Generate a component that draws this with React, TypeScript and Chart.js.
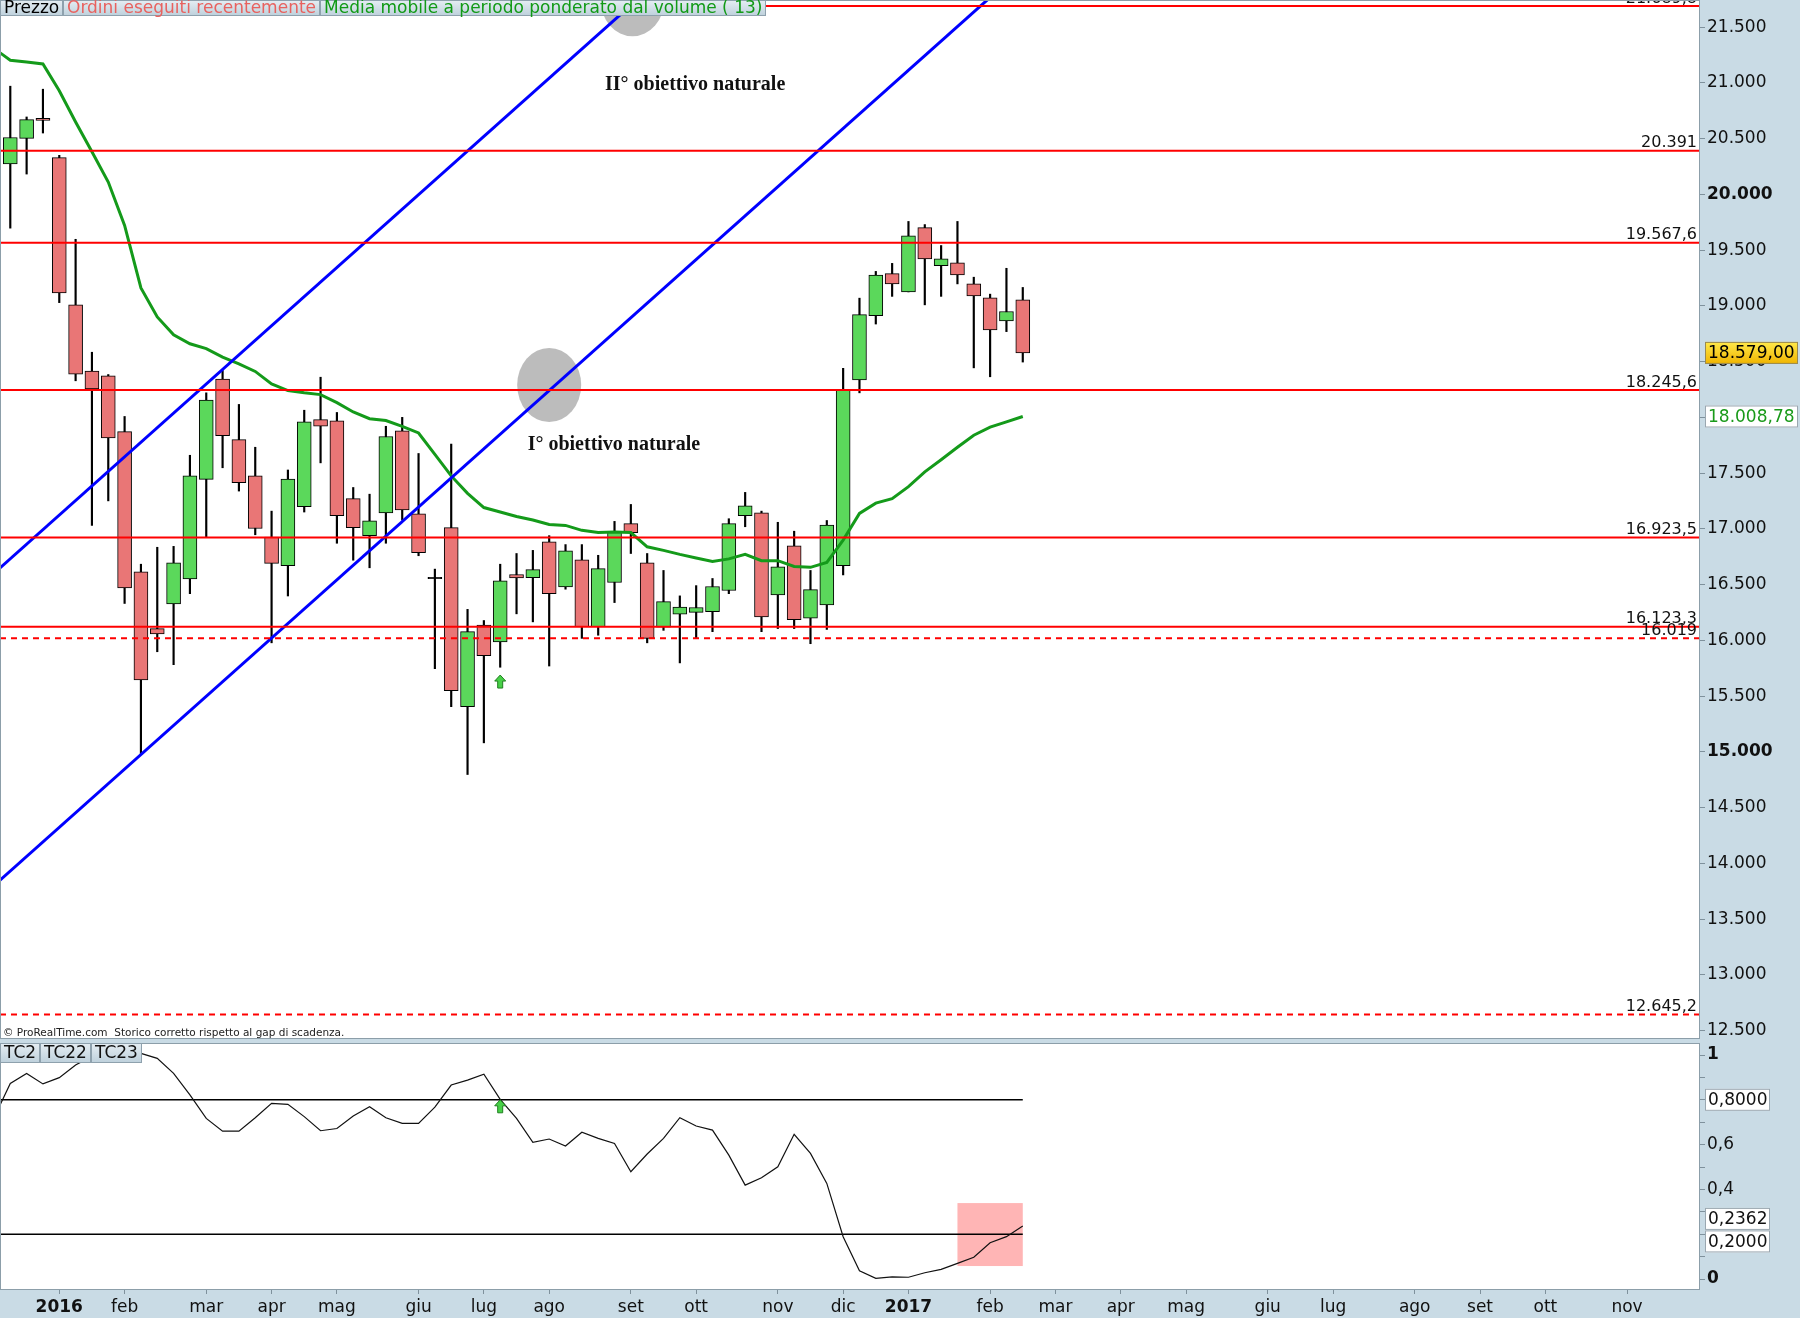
import React, { useEffect, useRef } from 'react';
import { Chart, registerables } from 'chart.js';

Chart.register(...registerables);

// ---------- DATA ----------
// Weekly candles, index 1..63 (first week: 14 Dec 2015)
const candleOpen = [20275, 20503, 20683, 20331, 19010, 18417, 18373, 17873, 16616, 16107, 16328, 16552, 17445, 18345, 17801, 17476, 16928, 16672, 17200, 17981, 17969, 17272, 16940, 17144, 17881, 17136, 16560, 17012, 15407, 16139, 15987, 16592, 16564, 16884, 16480, 16724, 16123, 16520, 17048, 16696, 16119, 16236, 16252, 16259, 16448, 17120, 17144, 16408, 16848, 16199, 16320, 16672, 18337, 18914, 19290, 19126, 19702, 19362, 19386, 19198, 19074, 18866, 19054];
const candleHigh = [20971, 20695, 20944, 20351, 19598, 18585, 18385, 18009, 16684, 16836, 16844, 17661, 18221, 18421, 18117, 17733, 17160, 17529, 18065, 18361, 18045, 17372, 17312, 17921, 18001, 17677, 16640, 17761, 16279, 16179, 16684, 16780, 16808, 16940, 16860, 16860, 16764, 17068, 17220, 16780, 16628, 16400, 16492, 16556, 17092, 17328, 17160, 17060, 16980, 16628, 17076, 18441, 19070, 19310, 19382, 19758, 19730, 19542, 19758, 19258, 19106, 19338, 19166];
const candleLow = [19698, 20183, 20551, 19030, 18329, 17032, 17252, 16332, 14978, 15899, 15783, 16420, 16928, 17549, 17340, 16948, 15979, 16399, 17152, 17593, 16872, 16720, 16652, 16872, 17080, 16760, 15747, 15407, 14798, 15082, 15760, 16239, 16167, 15771, 16460, 16019, 16047, 16340, 16780, 15979, 16091, 15799, 16019, 16079, 16420, 17020, 16079, 16107, 16107, 15971, 16099, 16588, 18221, 18838, 19086, 19126, 19010, 19086, 19198, 18445, 18365, 18770, 18497];
const candleClose = [20511, 20671, 20663, 19118, 18389, 18257, 17817, 16472, 15647, 16059, 16696, 17476, 18157, 17837, 17416, 17004, 16692, 17448, 17961, 17921, 17120, 17012, 17072, 17829, 17172, 16788, 16560, 15551, 16079, 15863, 16536, 16560, 16636, 16420, 16804, 16123, 16644, 16980, 16968, 16019, 16348, 16300, 16296, 16484, 17048, 17208, 16211, 16660, 16187, 16456, 17036, 18249, 18922, 19278, 19198, 19630, 19422, 19422, 19278, 19090, 18786, 18950, 18579];

// Volume weighted moving average (13), index 0..63
const vwma = [21310, 21204, 21187, 21170, 20930, 20650, 20383, 20111, 19722, 19162, 18902, 18741, 18661, 18618, 18541, 18481, 18413, 18301, 18241, 18221, 18205, 18133, 18049, 17989, 17973, 17921, 17861, 17669, 17476, 17320, 17192, 17152, 17112, 17080, 17040, 17032, 16988, 16968, 16972, 16968, 16840, 16808, 16772, 16740, 16708, 16732, 16772, 16716, 16716, 16664, 16656, 16700, 16900, 17140, 17232, 17272, 17380, 17512, 17621, 17733, 17841, 17913, 17961, 18008.78];

// Oscillator (TC2 / TC22 / TC23), index 0..63
const oscillator = [0.72, 0.873, 0.918, 0.871, 0.899, 0.955, 0.995, 1.02, 1.03, 1.007, 0.985, 0.918, 0.822, 0.717, 0.66, 0.66, 0.72, 0.784, 0.78, 0.725, 0.662, 0.672, 0.728, 0.769, 0.72, 0.695, 0.695, 0.767, 0.866, 0.888, 0.914, 0.802, 0.717, 0.61, 0.625, 0.594, 0.655, 0.628, 0.605, 0.479, 0.558, 0.628, 0.72, 0.683, 0.665, 0.553, 0.419, 0.452, 0.501, 0.646, 0.561, 0.427, 0.189, 0.037, 0.003, 0.01, 0.008, 0.028, 0.043, 0.07, 0.097, 0.162, 0.189, 0.2362];

const priceTicks = [12500, 13000, 13500, 14000, 14500, 15000, 15500, 16000, 16500, 17000, 17500, 18000, 18500, 19000, 19500, 20000, 20500, 21000, 21500];
const monthTickIdx = [4, 8, 13, 17, 21, 26, 30, 34, 39, 43, 48, 52, 56, 61, 65, 69, 73, 78, 82, 87, 91, 95, 100];
const monthTickLabels = ['2016', 'feb', 'mar', 'apr', 'mag', 'giu', 'lug', 'ago', 'set', 'ott', 'nov', 'dic', '2017', 'feb', 'mar', 'apr', 'mag', 'giu', 'lug', 'ago', 'set', 'ott', 'nov'];

const levelValues = [21689.8, 20391, 19567.6, 18245.6, 16923.5, 16123.3, 16019, 12645.2];
const levelDashed = [false, false, false, false, false, false, true, true];

const trendA = [[0.37, 16650], [45, 22480]];
const trendB = [[0.37, 13850], [66, 22420]];

const ellipseIdx = [34.0, 39.1];
const ellipseVal = [18291, 21750];

const noteTexts = ['II° obiettivo naturale', 'I° obiettivo naturale'];
const noteIdx = [37.42, 32.68];
const noteVal = [20933, 17712];

const oscLevels = [0.8, 0.2];
const oscTicks = [0, 0.1, 0.2, 0.3, 0.4, 0.5, 0.6, 0.7, 0.8, 0.9, 1];
const oscTickValues = [0, 0.4, 0.6, 1];
const oscTickTexts = ['0', '0,4', '0,6', '1'];

const zoneIdx = [59, 63];
const zoneVal = [0.058, 0.339];

const signalIdx = 31;
const signalPrice = 15690;
const signalOsc = 0.8;

const mainLegendTexts = ['Prezzo', 'Ordini eseguiti recentemente', 'Media mobile a periodo ponderato dal volume ( 13)'];
const mainLegendColors = ['#000000', '#e8625f', '#119a16'];
const oscLegendTexts = ['TC2', 'TC22', 'TC23'];
const copyrightText = '© ProRealTime.com  Storico corretto rispetto al gap di scadenza.';

// ---------- STYLE ----------
const FONT = '"DejaVu Sans", sans-serif';
const AXIS_BG = '#c9dbe5';
const X_MIN = 0.37;
const X_MAX = 104.47;
const GREEN = '#5bd85b';
const RED = '#e97676';
const FRAME = '#8c9ea9';

function fmt(v: number, dec = 0) {
  const s = Math.abs(v).toFixed(dec);
  const parts = s.split('.');
  const int = parts[0].replace(/\B(?=(\d{3})+(?!\d))/g, '.');
  return (v < 0 ? '-' : '') + (parts[1] ? int + ',' + parts[1] : int);
}

function drawUpArrow(ctx: CanvasRenderingContext2D, cx: number, ty: number) {
  ctx.save();
  ctx.beginPath();
  ctx.moveTo(cx, ty);
  ctx.lineTo(cx + 5.5, ty + 6);
  ctx.lineTo(cx + 2.5, ty + 6);
  ctx.lineTo(cx + 2.5, ty + 13);
  ctx.lineTo(cx - 2.5, ty + 13);
  ctx.lineTo(cx - 2.5, ty + 6);
  ctx.lineTo(cx - 5.5, ty + 6);
  ctx.closePath();
  ctx.fillStyle = '#48d048';
  ctx.fill();
  ctx.strokeStyle = '#1f7f1f';
  ctx.lineWidth = 1;
  ctx.stroke();
  ctx.restore();
}

function drawLegend(ctx: CanvasRenderingContext2D, texts: string[], colors: string[], y0: number, h: number, size: number, pad: number) {
  ctx.save();
  ctx.font = `${size}px ${FONT}`;
  ctx.textBaseline = 'middle';
  ctx.textAlign = 'left';
  let x = 0;
  texts.forEach((t, i) => {
    const w = Math.round(ctx.measureText(t).width + 2 * pad);
    const g = ctx.createLinearGradient(0, y0, 0, y0 + h);
    g.addColorStop(0, '#e6eef3');
    g.addColorStop(1, '#bdd0db');
    ctx.fillStyle = g;
    ctx.fillRect(x, y0, w, h);
    ctx.strokeStyle = '#8ea1ad';
    ctx.lineWidth = 1;
    ctx.strokeRect(x + 0.5, y0 + 0.5, w - 1, h - 1);
    ctx.fillStyle = colors[i];
    ctx.fillText(t, x + pad, y0 + h / 2 + 1);
    x += w;
  });
  ctx.restore();
}

function drawBox(ctx: CanvasRenderingContext2D, text: string, yc: number, x: number, w: number, h: number, fill: any, color: string, border: string) {
  ctx.save();
  ctx.fillStyle = fill;
  ctx.fillRect(x, yc - h / 2, w, h);
  ctx.strokeStyle = border;
  ctx.lineWidth = 1;
  ctx.strokeRect(x + 0.5, yc - h / 2 + 0.5, w - 1, h - 1);
  ctx.font = `17px ${FONT}`;
  ctx.textBaseline = 'middle';
  ctx.textAlign = 'left';
  ctx.fillStyle = color;
  ctx.fillText(text, x + 3, yc + 1);
  ctx.restore();
}

function frame(chart: any) {
  const { ctx, chartArea: a } = chart;
  ctx.save();
  ctx.strokeStyle = FRAME;
  ctx.lineWidth = 1;
  ctx.strokeRect(a.left + 0.5, a.top + 0.5, a.right - a.left - 1, a.bottom - a.top - 1);
  ctx.restore();
}

const whiteArea = {
  id: 'whiteArea',
  beforeDraw(chart: any) {
    const { ctx, chartArea: a } = chart;
    ctx.save();
    ctx.fillStyle = '#ffffff';
    ctx.fillRect(a.left, a.top, a.right - a.left, a.bottom - a.top);
    ctx.restore();
  },
};

const mainDecor = {
  id: 'mainDecor',
  beforeDatasetsDraw(chart: any) {
    const { ctx, scales } = chart;
    ctx.save();
    ctx.fillStyle = '#bcbcbc';
    ellipseIdx.forEach((ix, i) => {
      ctx.beginPath();
      ctx.ellipse(scales.x.getPixelForValue(ix), scales.y.getPixelForValue(ellipseVal[i]), 32, 37, 0, 0, Math.PI * 2);
      ctx.fill();
    });
    ctx.restore();
  },
  afterDatasetsDraw(chart: any) {
    const { ctx, scales, chartArea: a } = chart;
    ctx.save();
    // level labels
    ctx.font = `16px ${FONT}`;
    ctx.fillStyle = '#111';
    ctx.textAlign = 'right';
    ctx.textBaseline = 'alphabetic';
    levelValues.forEach((v) => {
      const y = scales.y.getPixelForValue(v);
      ctx.fillText(fmt(v, Number.isInteger(v) ? 0 : 1), a.right - 3, y - 3.5);
    });
    // notes
    ctx.font = `bold 20px "Liberation Serif", serif`;
    ctx.textAlign = 'left';
    noteTexts.forEach((t, i) => {
      ctx.fillText(t, scales.x.getPixelForValue(noteIdx[i]), scales.y.getPixelForValue(noteVal[i]));
    });
    // copyright
    ctx.font = `10.5px ${FONT}`;
    ctx.fillStyle = '#222';
    ctx.fillText(copyrightText, 3, a.bottom - 3);
    ctx.restore();
    drawUpArrow(ctx, scales.x.getPixelForValue(signalIdx), scales.y.getPixelForValue(signalPrice));
  },
  afterDraw(chart: any) {
    const { ctx, scales, chartArea: a } = chart;
    frame(chart);
    drawLegend(ctx, mainLegendTexts, mainLegendColors, 0, 16, 17, 4);
    const last = candleClose[candleClose.length - 1];
    const g = ctx.createLinearGradient(0, scales.y.getPixelForValue(last) - 11, 0, scales.y.getPixelForValue(last) + 11);
    g.addColorStop(0, '#ffe94a');
    g.addColorStop(1, '#f0b400');
    drawBox(ctx, fmt(last, 2), scales.y.getPixelForValue(last), a.right + 5, 93, 22, g, '#000', '#9a8a50');
    const lv = vwma[vwma.length - 1];
    drawBox(ctx, fmt(lv, 2), scales.y.getPixelForValue(lv), a.right + 5, 93, 22, '#ffffff', '#1a9a1a', '#9aa7b0');
  },
};

const oscDecor = {
  id: 'oscDecor',
  beforeDatasetsDraw(chart: any) {
    const { ctx, scales } = chart;
    const x0 = scales.x.getPixelForValue(zoneIdx[0]);
    const x1 = scales.x.getPixelForValue(zoneIdx[1]);
    const y0 = scales.y.getPixelForValue(zoneVal[1]);
    const y1 = scales.y.getPixelForValue(zoneVal[0]);
    ctx.save();
    ctx.fillStyle = '#ffb5b5';
    ctx.fillRect(x0, y0, x1 - x0, y1 - y0);
    ctx.restore();
  },
  afterDatasetsDraw(chart: any) {
    const { ctx, scales } = chart;
    drawUpArrow(ctx, scales.x.getPixelForValue(signalIdx), scales.y.getPixelForValue(signalOsc));
  },
  afterDraw(chart: any) {
    const { ctx, scales, chartArea: a } = chart;
    frame(chart);
    drawLegend(ctx, oscLegendTexts, ['#111', '#111', '#111'], a.top, 20, 17, 4);
    const vals = [oscLevels[0], oscillator[oscillator.length - 1], oscLevels[1]];
    const ys = vals.map((v) => scales.y.getPixelForValue(v));
    for (let i = 0; i < ys.length - 1; i++) {
      const d = ys[i + 1] - ys[i];
      if (d < 22.5) {
        const mid = (ys[i] + ys[i + 1]) / 2;
        ys[i] = mid - 11.25;
        ys[i + 1] = mid + 11.25;
      }
    }
    vals.forEach((v, i) => {
      drawBox(ctx, v.toFixed(4).replace('.', ','), ys[i], a.right + 5, 65, 22, '#ffffff', '#111', '#9aa7b0');
    });
  },
};

function mainConfig(): any {
  const idx = candleOpen.map((_, i) => i + 1);
  const wickData = idx.map((x, i) => ({ x, y: [candleLow[i], candleHigh[i]] }));
  const bodyData = idx.map((x, i) => {
    const o = candleOpen[i];
    const c = candleClose[i];
    return o === c ? { x, y: [o - 6, o + 6] } : { x, y: [o, c] };
  });
  const bodyColors = idx.map((_, i) => (candleClose[i] > candleOpen[i] ? GREEN : candleClose[i] < candleOpen[i] ? RED : '#000'));
  const levelSets = levelValues.map((v, i) => ({
    type: 'line',
    data: [{ x: X_MIN, y: v }, { x: X_MAX, y: v }],
    borderColor: '#ff0000',
    borderWidth: 2,
    borderDash: levelDashed[i] ? [6, 5] : [],
    pointRadius: 0,
    order: 1,
  }));
  const trendSets = [trendA, trendB].map((t) => ({
    type: 'line',
    data: t.map((p) => ({ x: p[0], y: p[1] })),
    borderColor: '#0000ff',
    borderWidth: 3,
    pointRadius: 0,
    order: 2,
  }));
  return {
    type: 'bar',
    data: {
      datasets: [
        { type: 'bar', data: wickData, backgroundColor: '#000', barThickness: 1.5, grouped: false, order: 20 },
        { type: 'bar', data: bodyData, backgroundColor: bodyColors, borderColor: '#000', borderWidth: 1, borderSkipped: false, barThickness: 14, grouped: false, order: 19 },
        { type: 'line', data: vwma.map((y, i) => ({ x: i, y })), borderColor: '#149a1a', borderWidth: 3, pointRadius: 0, tension: 0, order: 5 },
        ...trendSets,
        ...levelSets,
      ],
    },
    options: {
      responsive: false,
      animation: false,
      events: [],
      layout: { padding: { top: 0, left: 0, right: 0, bottom: 1 } },
      plugins: { legend: { display: false }, tooltip: { enabled: false } },
      scales: {
        x: { type: 'linear', min: X_MIN, max: X_MAX, display: false, offset: false },
        y: {
          type: 'linear',
          position: 'right',
          min: 12426,
          max: 21744,
          afterBuildTicks: (s: any) => { s.ticks = priceTicks.map((v) => ({ value: v })); },
          afterFit: (s: any) => { s.width = 100; s.paddingTop = 0; s.paddingBottom = 0; },
          border: { display: false },
          grid: { drawOnChartArea: false, drawTicks: true, tickLength: 5, color: '#7f919c' },
          ticks: {
            autoSkip: false,
            padding: 2,
            color: '#111',
            font: (c: any) => ({ family: FONT, size: 17, weight: c.tick && c.tick.value % 5000 === 0 ? 'bold' : 'normal' }),
            callback: (v: any) => fmt(Number(v), 0),
          },
        },
      },
    },
    plugins: [whiteArea, mainDecor],
  };
}

function oscConfig(): any {
  const lastIdx = oscillator.length - 1;
  return {
    type: 'line',
    data: {
      datasets: [
        { data: oscillator.map((y, i) => ({ x: i, y })), borderColor: '#111', borderWidth: 1.2, pointRadius: 0, tension: 0, order: 2 },
        ...oscLevels.map((v) => ({ data: [{ x: X_MIN, y: v }, { x: lastIdx, y: v }], borderColor: '#000', borderWidth: 1.5, pointRadius: 0, order: 3 })),
      ],
    },
    options: {
      responsive: false,
      animation: false,
      events: [],
      layout: { padding: { top: 3, left: 0, right: 0, bottom: 0 } },
      plugins: { legend: { display: false }, tooltip: { enabled: false } },
      scales: {
        x: {
          type: 'linear',
          position: 'bottom',
          min: X_MIN,
          max: X_MAX,
          offset: false,
          afterBuildTicks: (s: any) => { s.ticks = monthTickIdx.map((v) => ({ value: v })); },
          afterFit: (s: any) => { s.height = 28; s.paddingLeft = 0; s.paddingRight = 0; },
          border: { display: false },
          grid: { drawOnChartArea: false, drawTicks: true, tickLength: 4, color: '#7f919c' },
          ticks: {
            autoSkip: false,
            maxRotation: 0,
            padding: 3,
            color: '#111',
            font: (c: any) => {
              const k = c.tick ? monthTickIdx.indexOf(c.tick.value) : -1;
              const isYear = k >= 0 && /^\d{4}$/.test(monthTickLabels[k]);
              return { family: FONT, size: 17, weight: isYear ? 'bold' : 'normal' };
            },
            callback: (v: any) => {
              const k = monthTickIdx.indexOf(Number(v));
              return k >= 0 ? monthTickLabels[k] : '';
            },
          },
        },
        y: {
          type: 'linear',
          position: 'right',
          min: -0.049,
          max: 1.0536,
          afterBuildTicks: (s: any) => { s.ticks = oscTicks.map((v) => ({ value: v })); },
          afterFit: (s: any) => { s.width = 100; s.paddingTop = 0; s.paddingBottom = 0; },
          border: { display: false },
          grid: { drawOnChartArea: false, drawTicks: true, tickLength: 5, color: '#7f919c' },
          ticks: {
            autoSkip: false,
            padding: 2,
            color: '#111',
            font: (c: any) => ({ family: FONT, size: 17, weight: c.tick && (c.tick.value === 0 || c.tick.value === 1) ? 'bold' : 'normal' }),
            callback: (v: any) => {
              const k = oscTickValues.findIndex((t) => Math.abs(t - Number(v)) < 1e-6);
              return k >= 0 ? oscTickTexts[k] : '';
            },
          },
        },
      },
    },
    plugins: [whiteArea, oscDecor],
  };
}

export default function App() {
  const mainRef = useRef<HTMLCanvasElement>(null);
  const oscRef = useRef<HTMLCanvasElement>(null);
  useEffect(() => {
    Chart.defaults.font.family = FONT;
    const main = new Chart(mainRef.current as HTMLCanvasElement, mainConfig());
    const osc = new Chart(oscRef.current as HTMLCanvasElement, oscConfig());
    return () => {
      main.destroy();
      osc.destroy();
    };
  }, []);
  return (
    <div style={{ position: 'absolute', left: 0, top: 0, width: 1800, height: 1318, background: AXIS_BG, overflow: 'hidden' }}>
      <canvas ref={mainRef} width={1800} height={1040} style={{ position: 'absolute', left: 0, top: 0, width: 1800, height: 1040 }} />
      <canvas ref={oscRef} width={1800} height={278} style={{ position: 'absolute', left: 0, top: 1040, width: 1800, height: 278 }} />
    </div>
  );
}
